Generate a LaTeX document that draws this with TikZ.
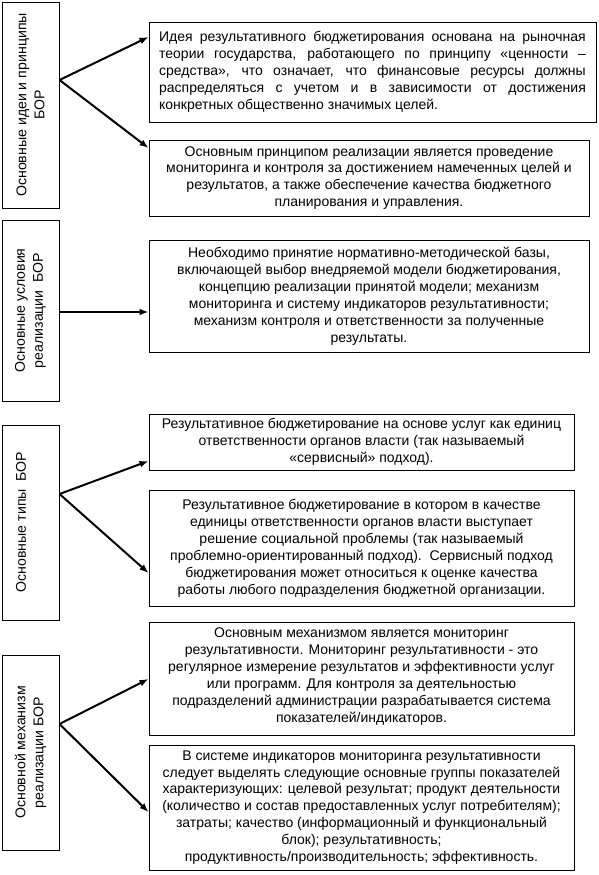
\documentclass[tikz,border=0pt]{standalone}
\usepackage{fontspec}
\setmainfont{Liberation Sans}
\usetikzlibrary{arrows.meta,calc,fit}
\begin{document}
\begin{tikzpicture}[x=0.75pt,y=-0.75pt,
  box/.style={draw,line width=0.75pt,inner sep=0pt},
  txt/.style={align=center,inner sep=0pt,font=\fontsize{10.5}{12.7}\selectfont},
  lbl/.style={align=center,inner sep=0pt,rotate=90,font=\fontsize{10.6}{13.5}\selectfont},
  arr/.style={line width=1.5pt,-{Latex[length=6.75pt,width=5.25pt]}}]
\useasboundingbox (0,0) rectangle (599,875);
% left boxes
\node[box,fit={(2,2) (59,208)}] (L1) {};
\node[box,fit={(2,220) (59,401)}] (L2) {};
\node[box,fit={(2,425) (59,620)}] (L3) {};
\node[box,fit={(2,655) (59,850)}] (L4) {};
\node[lbl] (l1) at (L1.center) {Основные идеи и принципы\\БОР};
\node[lbl] (l2) at (L2.center) {Основные условия\\реализации\ \ БОР};
\node[lbl] (l3) at (21,522) {Основные типы\ \ БОР};
\node[lbl] (l4) at (L4.center) {Основной механизм\\реализации БОР};
% right boxes
\node[box,fit={(149,22) (596,122)}] (B1) {};
\node[box,fit={(149,140) (589,216)}] (B2) {};
\node[box,fit={(149,240) (589,352)}] (B3) {};
\node[box,fit={(149,414) (574,470)}] (B4) {};
\node[box,fit={(149,490) (574,606)}] (B5) {};
\node[box,fit={(149,622) (574,735)}] (B6) {};
\node[box,fit={(149,745) (574,870)}] (B7) {};
\node[txt,align=left] (t1) at (B1.center) {%
\makebox[320pt][s]{Идея результативного бюджетирования основана на рыночная}\\
\makebox[320pt][s]{теории государства, работающего по принципу «ценности –}\\
\makebox[320pt][s]{средства», что означает, что финансовые ресурсы должны}\\
\makebox[320pt][s]{распределяться с учетом и в зависимости от достижения}\\
конкретных общественно значимых целей.};
\node[txt] (t2) at (B2.center) {Основным принципом реализации является проведение\\
мониторинга и контроля за достижением намеченных целей и\\
результатов, а также обеспечение качества бюджетного\\
планирования и управления.};
\node[txt] (t3) at (B3.center) {Необходимо принятие нормативно-методической базы,\\
включающей выбор внедряемой модели бюджетирования,\\
концепцию реализации принятой модели; механизм\\
мониторинга и систему индикаторов результативности;\\
механизм контроля и ответственности за полученные\\
результаты.};
\node[txt] (t4) at (B4.center) {Результативное бюджетирование на основе услуг как единиц\\
ответственности органов власти (так называемый\\
«сервисный» подход).};
\node[txt] (t5) at (B5.center) {Результативное бюджетирование в котором в качестве\\
единицы ответственности органов власти выступает\\
решение социальной проблемы (так называемый\\
проблемно-ориентированный подход).\ \ Сервисный подход\\
бюджетирования может относиться к оценке качества\\
работы любого подразделения бюджетной организации.};
\node[txt] (t6) at ([yshift=1.5pt]B6.center) {Основным механизмом является мониторинг\\
результативности. Мониторинг результативности - это\\
регулярное измерение результатов и эффективности услуг\\
или программ. Для контроля за деятельностью\\
подразделений администрации разрабатывается система\\
показателей/индикаторов.};
\node[txt] (t7) at (B7.center) {В системе индикаторов мониторинга результативности\\
следует выделять следующие основные группы показателей\\
характеризующих: целевой результат; продукт деятельности\\
(количество и состав предоставленных услуг потребителям);\\
затраты; качество (информационный и функциональный\\
блок); результативность;\\
продуктивность/производительность; эффективность.};
% arrow endpoints
\coordinate (o1) at (L1.east |- 0,80);
\coordinate (o3) at (L3.east |- 0,494);
\coordinate (o4) at (L4.east |- 0,724);
\draw[arr] (o1) -- (B1.west |- 0,37);
\draw[arr] (o1) -- (B2.west |- 0,148);
\draw[arr] (L2.east |- 0,312) -- (B3.west |- 0,312);
\draw[arr] (o3) -- (B4.west |- 0,461);
\draw[arr] (o3) -- (B5.west |- 0,573);
\draw[arr] (o4) -- (B6.west |- 0,679);
\draw[arr] (o4) -- (B7.west |- 0,812);
\end{tikzpicture}
\end{document}
